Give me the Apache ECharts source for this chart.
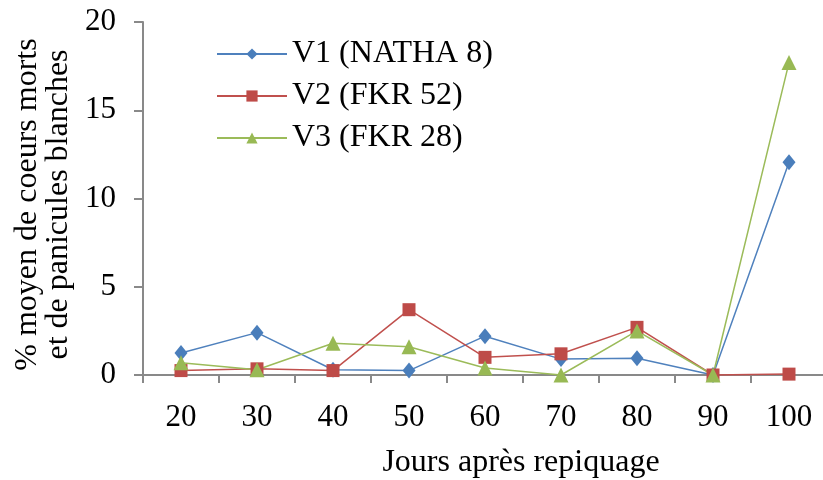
<!DOCTYPE html>
<html>
<head>
<meta charset="utf-8">
<script src="https://cdn.jsdelivr.net/npm/echarts@6/dist/echarts.min.js"></script>
<style>html,body{margin:0;padding:0;background:#fff}#c{width:823px;height:480px}</style>
</head>
<body>
<div id="c"></div>
<script>
const categories = ['20','30','40','50','60','70','80','90','100'];
const v1 = [1.25, 2.4, 0.3, 0.25, 2.2, 0.9, 0.95, 0, 12.05];
const v2 = [0.25, 0.35, 0.25, 3.7, 1.0, 1.2, 2.7, 0, 0.05];
const v3 = [0.7, 0.3, 1.8, 1.6, 0.4, 0, 2.5, 0, 17.7];
const seriesNames = ['V1 (NATHA 8)', 'V2 (FKR 52)', 'V3 (FKR 28)'];
const yTicks = { min: 0, max: 20, interval: 5 };

const font = '"Liberation Serif", "Times New Roman", serif';
const chart = echarts.init(document.getElementById('c'), null, { renderer: 'canvas' });
const mk = (name, data, color, lineColor, symbol, size) => ({
  name, type: 'line', data, symbol, symbolSize: size,
  itemStyle: { color }, lineStyle: { color: lineColor, width: 1.5 },
  showAllSymbol: true, animation: false, clip: false
});
chart.setOption({
  animation: false,
  grid: { left: 143, right: -4, top: 22, bottom: 105, containLabel: false, outerBoundsMode: 'none' },
  legend: {
    orient: 'vertical', left: 211, top: 33, itemWidth: 70, itemHeight: 14, itemGap: 10,
    textStyle: { fontFamily: font, fontSize: 32, color: '#000', lineHeight: 32 },
    data: seriesNames
  },
  xAxis: {
    type: 'category', data: categories, boundaryGap: true,
    axisLine: { lineStyle: { color: '#898989', width: 2 } },
    axisTick: { show: true, length: 8, lineStyle: { color: '#898989', width: 2 } },
    axisLabel: { fontFamily: font, fontSize: 31, color: '#000', margin: 27 },
    name: 'Jours après repiquage', nameLocation: 'middle', nameGap: 72,
    nameTextStyle: { fontFamily: font, fontSize: 32, color: '#000', padding: [0, 0, 0, 72] }
  },
  yAxis: {
    type: 'value', min: yTicks.min, max: yTicks.max, interval: yTicks.interval,
    splitLine: { show: false },
    axisLine: { show: true, lineStyle: { color: '#898989', width: 2 } },
    axisTick: { show: true, length: 9, lineStyle: { color: '#898989', width: 2 } },
    axisLabel: { fontFamily: font, fontSize: 31, color: '#000', margin: 27 },
    name: '% moyen de coeurs morts\net de panicules blanches', nameLocation: 'middle', nameRotate: 90,
    nameGap: 69,
    nameTextStyle: { fontFamily: font, fontSize: 32, color: '#000', lineHeight: 31, padding: [0, 12, 0, 0] }
  },
  series: [
    mk(seriesNames[0], v1, '#4A7EBB', '#4F81BD', 'diamond', [13, 16]),
    mk(seriesNames[1], v2, '#BE4B48', '#C0504D', 'rect', 13),
    mk(seriesNames[2], v3, '#98B954', '#9BBB59', 'triangle', 15)
  ]
});
</script>
</body>
</html>
